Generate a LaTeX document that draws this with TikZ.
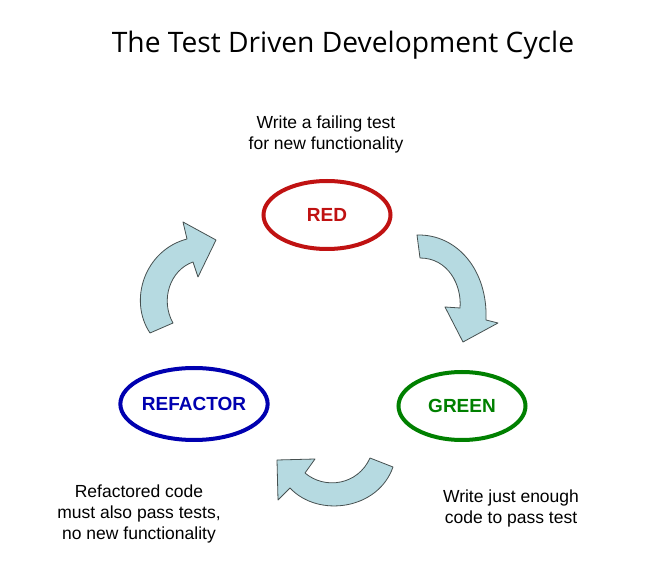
\documentclass[tikz,border=0pt]{standalone}
\usepackage{fontspec}
\setmainfont{Liberation Sans}
\newfontfamily\titlefont{Open Sans}
\usetikzlibrary{shapes.geometric}

\definecolor{tddred}{RGB}{192,18,18}
\definecolor{tddgreen}{RGB}{0,128,0}
\definecolor{tddblue}{RGB}{0,0,176}
\definecolor{arrowfill}{RGB}{182,218,225}
\definecolor{arrowline}{RGB}{70,80,80}

\begin{document}
\begin{tikzpicture}[x=1pt,y=-1pt,
  phase/.style={ellipse, draw, line width=4pt, minimum width=127pt,
    minimum height=68pt, inner sep=0pt,
    font=\fontsize{19}{19}\selectfont\bfseries},
  note/.style={align=center, inner sep=0pt,
    font=\fontsize{17.5}{21}\selectfont},
  cyclearrow/.style={fill=arrowfill, draw=arrowline, line width=0.8pt,
    line join=round}]

\fill[white] (0,0) rectangle (665,564);
\useasboundingbox (0,0) rectangle (665,564);

% heading
\node[font=\titlefont\fontsize{28.2}{28.2}\selectfont, anchor=base, inner sep=0pt]
  (title) at (343,53) {The Test Driven Development Cycle};

% the three phases
\node[phase, draw=tddred, text=tddred] (red) at (327,215) {RED};
\node[phase, draw=tddgreen, text=tddgreen] (green) at (462,406) {GREEN};
\node[phase, draw=tddblue, text=tddblue, minimum width=124pt,
  minimum height=72pt] (refactor) at (194,404) {REFACTOR};

% what happens in each phase
\node[note] (redtxt) at (326,134) {Write a failing test\\for new functionality};
\node[note] (greentxt) at (511,508) {Write just enough\\code to pass test};
\node[note] (refactortxt) at (139,513.5)
  {Refactored code\\must also pass tests,\\no new functionality};

% RED -> GREEN
\draw[cyclearrow]
  (417,235) .. controls (457,234) and (488,270) .. (486,320)
  -- (498,323) -- (463,342) -- (445,307) -- (460,308)
  .. controls (462,285) and (448,258) .. (420,258)
  -- cycle;

% GREEN -> REFACTOR
\draw[cyclearrow]
  (393,467) .. controls (378,510) and (318,518) .. (290,488)
  -- (278,500) -- (277,460) -- (315,459) -- (305,473)
  .. controls (325,490) and (358,485) .. (370,458)
  -- cycle;

% REFACTOR -> RED
\draw[cyclearrow]
  (150,333) .. controls (128,300) and (145,250) .. (187,239)
  -- (183,222) -- (216,240) -- (198,277) -- (193,262)
  .. controls (170,270) and (160,300) .. (173,323)
  -- cycle;

\end{tikzpicture}
\end{document}
